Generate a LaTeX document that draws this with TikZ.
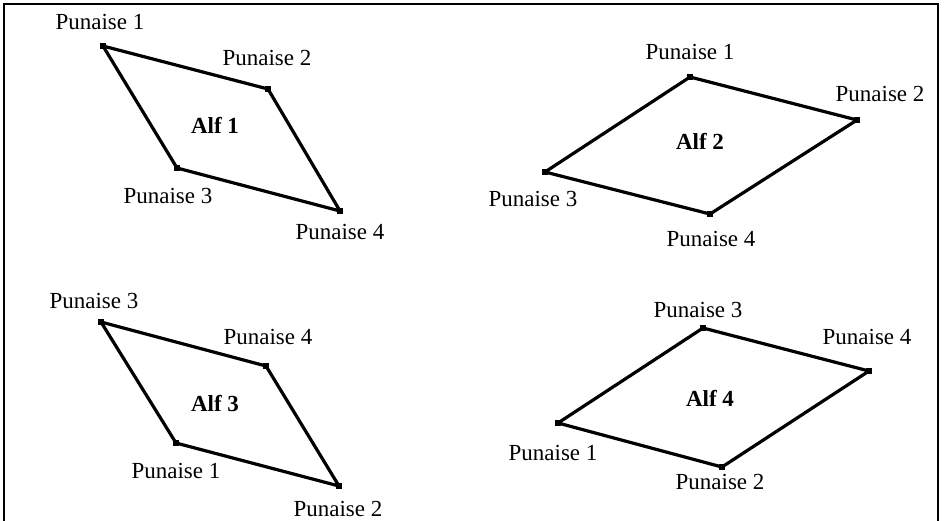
\documentclass[tikz,border=0pt]{standalone}
\usepackage{fontspec}
\setmainfont{Liberation Serif}
\begin{document}
\begin{tikzpicture}[x=1pt,y=-1pt,
  edge/.style={line width=3.2pt, line join=round},
  pin/.style={rectangle, fill=black, inner sep=0pt, minimum size=6pt},
  lbl/.style={font=\fontsize{23}{26}\selectfont, inner sep=0pt},
  ttl/.style={font=\fontsize{23}{26}\selectfont\bfseries, inner sep=0pt}]
\useasboundingbox (0,0) rectangle (948,520);
\draw[line width=1.8pt] (4,522) -- (4,4) -- (938,4) -- (938,522);
% Alf 1
\node[pin] (a1) at (103,46) {};
\node[pin] (a2) at (268,89) {};
\node[pin] (a3) at (177,168) {};
\node[pin] (a4) at (340,211) {};
\draw[edge] (a1.center) -- (a2.center) -- (a4.center) -- (a3.center) -- cycle;
\node[lbl] at (100,22) {Punaise 1};
\node[lbl] at (267,58) {Punaise 2};
\node[lbl] at (168,196) {Punaise 3};
\node[lbl] at (340,232) {Punaise 4};
\node[ttl] at (215,125) {Alf 1};
% Alf 2
\node[pin] (b1) at (690,77) {};
\node[pin] (b2) at (857,120) {};
\node[pin] (b3) at (545,172) {};
\node[pin] (b4) at (710,214) {};
\draw[edge] (b1.center) -- (b2.center) -- (b4.center) -- (b3.center) -- cycle;
\node[lbl] at (690,52) {Punaise 1};
\node[lbl] at (880,94) {Punaise 2};
\node[lbl] at (533,199) {Punaise 3};
\node[lbl] at (711,239) {Punaise 4};
\node[ttl] at (700,141) {Alf 2};
% Alf 3
\node[pin] (c3) at (101,322) {};
\node[pin] (c4) at (266,366) {};
\node[pin] (c1) at (176,443) {};
\node[pin] (c2) at (339,486) {};
\draw[edge] (c3.center) -- (c4.center) -- (c2.center) -- (c1.center) -- cycle;
\node[lbl] at (94,301) {Punaise 3};
\node[lbl] at (268,337) {Punaise 4};
\node[lbl] at (176,471) {Punaise 1};
\node[lbl] at (338,509) {Punaise 2};
\node[ttl] at (215,404) {Alf 3};
% Alf 4
\node[pin] (d3) at (703,328) {};
\node[pin] (d4) at (869,371) {};
\node[pin] (d1) at (558,423) {};
\node[pin] (d2) at (722,467) {};
\draw[edge] (d3.center) -- (d4.center) -- (d2.center) -- (d1.center) -- cycle;
\node[lbl] at (698,310) {Punaise 3};
\node[lbl] at (867,337) {Punaise 4};
\node[lbl] at (553,453) {Punaise 1};
\node[lbl] at (720,482) {Punaise 2};
\node[ttl] at (710,398) {Alf 4};
\end{tikzpicture}
\end{document}
